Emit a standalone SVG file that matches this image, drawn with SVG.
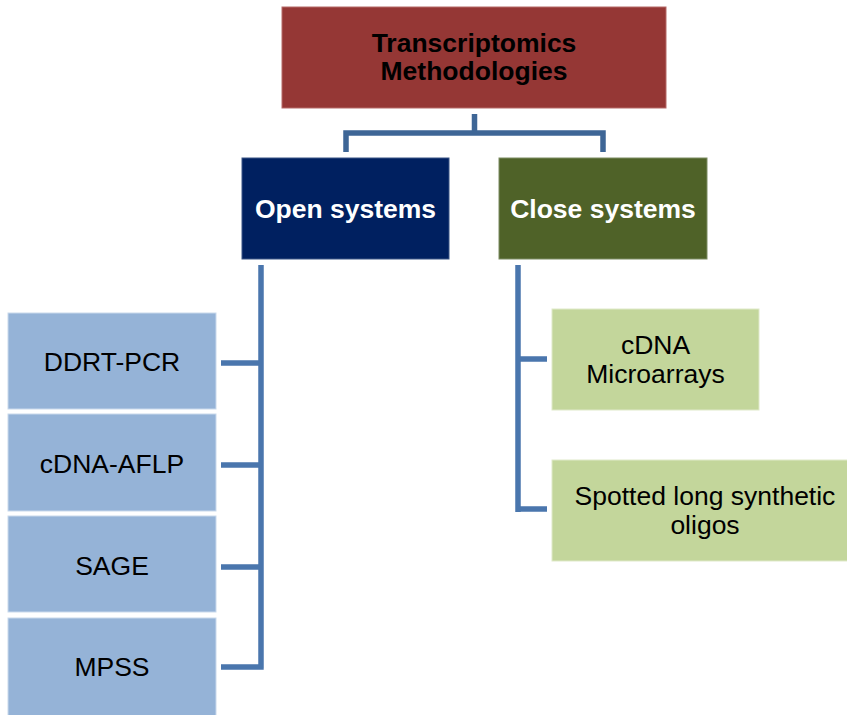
<svg xmlns="http://www.w3.org/2000/svg" width="847" height="715" viewBox="0 0 847 715">
  <style>
    .box { stroke-width: 1; }
    .root { fill: #953735; stroke: #b56a68; }
    .open { fill: #002060; stroke: #3a5585; }
    .close { fill: #4f6228; stroke: #7d8c62; }
    .leaf-open { fill: #95b3d7; stroke: #c9d9ec; }
    .leaf-close { fill: #c3d69b; stroke: #dfe9c9; }
    .t { font-family: "Liberation Sans", Arial, sans-serif; font-size: 26.5px; text-anchor: middle; }
    .b { font-weight: bold; }
    .dark { fill: #000000; }
    .light { fill: #ffffff; }
    .link { fill: none; stroke-width: 5.5; stroke-linejoin: miter; stroke-linecap: butt; }
    .link-top { stroke: #3e6696; }
    .link-sub { stroke: #4a76ad; }
  </style>

  <g id="connectors">
    <!-- root to the two system branches -->
    <path class="link link-top" d="M474.5,114 V133 M346,152 V133 H603 V152"/>
    <!-- open systems bracket -->
    <path class="link link-sub" d="M261,265 V668 M221,363 H261 M221,465 H261 M221,567 H261 M221,667 H263.7"/>
    <!-- close systems bracket -->
    <path class="link link-sub" d="M518,265 V512 M518,359 H547 M518,509 H547"/>
  </g>

  <g id="root">
    <rect class="box root" x="282" y="7" width="384" height="101"/>
    <text class="t b dark" x="474" y="52">Transcriptomics</text>
    <text class="t b dark" x="474" y="80">Methodologies</text>
  </g>

  <g id="open-systems">
    <rect class="box open" x="242" y="158" width="207" height="101"/>
    <text class="t b light" x="345.5" y="218">Open systems</text>
  </g>

  <g id="close-systems">
    <rect class="box close" x="499" y="158" width="208" height="101"/>
    <text class="t b light" x="603" y="218">Close systems</text>
  </g>

  <g id="ddrt-pcr">
    <rect class="box leaf-open" x="8" y="313" width="208" height="96"/>
    <text class="t dark" x="112" y="371">DDRT-PCR</text>
  </g>

  <g id="cdna-aflp">
    <rect class="box leaf-open" x="8" y="414" width="208" height="97"/>
    <text class="t dark" x="112" y="473">cDNA-AFLP</text>
  </g>

  <g id="sage">
    <rect class="box leaf-open" x="8" y="516" width="208" height="96"/>
    <text class="t dark" x="112" y="575">SAGE</text>
  </g>

  <g id="mpss">
    <rect class="box leaf-open" x="8" y="618" width="208" height="100"/>
    <text class="t dark" x="112" y="676">MPSS</text>
  </g>

  <g id="cdna-microarrays">
    <rect class="box leaf-close" x="552" y="309" width="207" height="101"/>
    <text class="t dark" x="655.5" y="354">cDNA</text>
    <text class="t dark" x="655.5" y="383">Microarrays</text>
  </g>

  <g id="spotted-oligos">
    <rect class="box leaf-close" x="552" y="460" width="306" height="101"/>
    <text class="t dark" x="705" y="505">Spotted long synthetic</text>
    <text class="t dark" x="705" y="534">oligos</text>
  </g>
</svg>
